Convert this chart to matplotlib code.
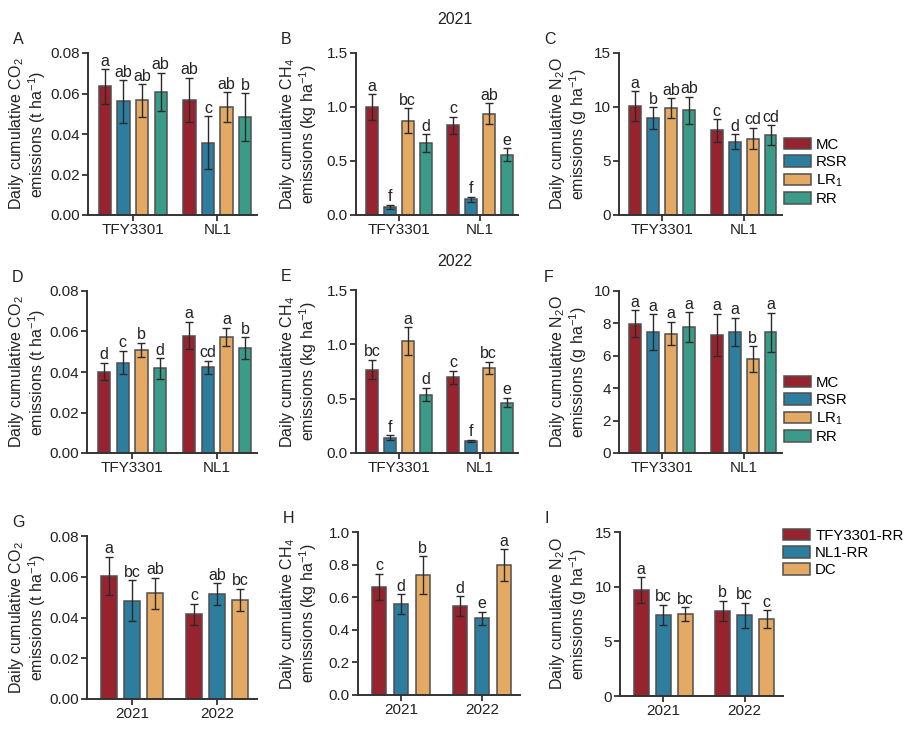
import numpy as np
import matplotlib
matplotlib.use("Agg")
import matplotlib.pyplot as plt
from matplotlib.patches import Patch

plt.rcParams['font.family'] = ['Liberation Sans', 'DejaVu Sans']
plt.rcParams['mathtext.fontset'] = 'custom'
plt.rcParams['mathtext.rm'] = 'Liberation Sans'
plt.rcParams['mathtext.it'] = 'Liberation Sans'
plt.rcParams['font.size'] = 11

W, H = 910, 736
FS = 11.5

# ---- data ----
cultivars = ['TFY3301', 'NL1']
treatments = ['MC', 'RSR', 'LR$_1$', 'RR']
years = ['2021', '2022']
combos = ['TFY3301-RR', 'NL1-RR', 'DC']

# rows: cultivar, cols: treatment (MC, RSR, LR1, RR)
co2_2021 = [[0.0635, 0.0561, 0.0566, 0.0609], [0.0567, 0.0358, 0.0533, 0.0483]]
co2_2021_sd = [[0.0086, 0.0105, 0.0080, 0.0093], [0.0110, 0.0130, 0.0072, 0.0118]]
co2_2021_let = [['a', 'ab', 'ab', 'ab'], ['ab', 'c', 'ab', 'b']]

ch4_2021 = [[0.999, 0.077, 0.875, 0.665], [0.829, 0.145, 0.937, 0.557]]
ch4_2021_sd = [[0.120, 0.020, 0.115, 0.083], [0.082, 0.026, 0.097, 0.059]]
ch4_2021_let = [['a', 'f', 'bc', 'd'], ['c', 'f', 'ab', 'e']]

n2o_2021 = [[10.11, 8.97, 9.90, 9.71], [7.83, 6.80, 7.08, 7.39]]
n2o_2021_sd = [[1.36, 0.99, 0.92, 1.25], [1.05, 0.70, 1.00, 0.94]]
n2o_2021_let = [['a', 'b', 'ab', 'ab'], ['c', 'd', 'cd', 'cd']]

co2_2022 = [[0.0402, 0.0446, 0.0510, 0.0418], [0.0580, 0.0423, 0.0574, 0.0519]]
co2_2022_sd = [[0.0043, 0.0058, 0.0035, 0.0051], [0.0067, 0.0033, 0.0045, 0.0053]]
co2_2022_let = [['d', 'c', 'b', 'd'], ['a', 'cd', 'a', 'b']]

ch4_2022 = [[0.768, 0.141, 1.030, 0.538], [0.695, 0.111, 0.784, 0.464]]
ch4_2022_sd = [[0.088, 0.023, 0.128, 0.063], [0.060, 0.010, 0.057, 0.043]]
ch4_2022_let = [['bc', 'f', 'a', 'd'], ['c', 'f', 'bc', 'e']]

n2o_2022 = [[7.98, 7.47, 7.37, 7.78], [7.30, 7.47, 5.78, 7.45]]
n2o_2022_sd = [[0.82, 1.10, 0.73, 0.92], [1.31, 0.88, 0.80, 1.20]]
n2o_2022_let = [['a', 'a', 'a', 'a'], ['a', 'a', 'b', 'a']]

# rows: year, cols: TFY3301-RR, NL1-RR, DC
co2_rr = [[0.0604, 0.0482, 0.0518], [0.0416, 0.0514, 0.0487]]
co2_rr_sd = [[0.0093, 0.0100, 0.0077], [0.0052, 0.0053, 0.0053]]
co2_rr_let = [['a', 'bc', 'ab'], ['c', 'ab', 'bc']]

ch4_rr = [[0.664, 0.559, 0.734], [0.547, 0.471, 0.795]]
ch4_rr_sd = [[0.079, 0.060, 0.116], [0.060, 0.039, 0.098]]
ch4_rr_let = [['c', 'd', 'b'], ['d', 'e', 'a']]

n2o_rr = [[9.67, 7.44, 7.47], [7.80, 7.38, 7.01]]
n2o_rr_sd = [[1.20, 0.92, 0.63], [0.92, 1.13, 0.82]]
n2o_rr_let = [['a', 'bc', 'bc'], ['b', 'bc', 'c']]

colors4 = ['#97232e', '#2d7d9e', '#e4a962', '#3a9c88']
colors3 = ['#97232e', '#2d7d9e', '#e4a962']

co2_lab = 'Daily cumulative CO$_2$\nemissions (t ha$^{-1}$)'
ch4_lab = 'Daily cumulative CH$_4$\nemissions (kg ha$^{-1}$)'
n2o_lab = 'Daily cumulative N$_2$O\nemissions (g ha$^{-1}$)'

fig = plt.figure(figsize=(W / 100, H / 100), dpi=100)


def add_ax(l, t, r, b):
    return fig.add_axes([l / W, 1 - b / H, (r - l) / W, (b - t) / H])


def draw(ax, vals, sds, lets, groups, cols, ylim, yticks, fmt, ylabel, letter,
         label_x):
    n = len(cols)
    spacing = 0.22 if n == 4 else 0.27
    width = 0.145 if n == 4 else 0.18
    offs = (np.arange(n) - (n - 1) / 2) * spacing
    top = ylim[1]
    for g in range(len(groups)):
        for i in range(n):
            x = g + offs[i]
            v, s = vals[g][i], sds[g][i]
            ax.bar(x, v, width=width, color=cols[i], edgecolor='#505050',
                   linewidth=1.1, zorder=2)
            ax.errorbar(x, v, yerr=s, fmt='none', ecolor='#2a2a2a',
                        elinewidth=1.0, capsize=3, capthick=1.0, zorder=3)
            ax.text(x, v + s + top * 0.003, lets[g][i], ha='center',
                    va='bottom', fontsize=FS, color='#222222')
    ax.set_xlim(-0.53, 1.47)
    ax.set_ylim(*ylim)
    ax.set_yticks(yticks)
    ax.set_yticklabels([fmt.format(t) for t in yticks])
    ax.set_xticks(range(len(groups)))
    ax.set_xticklabels(groups)
    for sp in ['top', 'right']:
        ax.spines[sp].set_visible(False)
    for sp in ['left', 'bottom']:
        ax.spines[sp].set_linewidth(1.4)
        ax.spines[sp].set_color('#333333')
    ax.tick_params(axis='both', width=1.3, length=4, color='#333333',
                   labelsize=11, labelcolor='#222222', pad=2)
    ax.set_ylabel(ylabel, fontsize=FS, color='#222222', linespacing=1.0)
    pos = ax.get_position()
    # right edge of the two-line label, in figure pixels
    ax.yaxis.set_label_coords((label_x / W - pos.x0) / pos.width, 0.5)
    fig.text(pos.x0 - 75 / W, pos.y1 + 6 / H, letter, fontsize=FS,
             va='bottom', ha='left', color='#222222')


co2_ticks = [0.0, 0.02, 0.04, 0.06, 0.08]
ch4_ticks = [0.0, 0.5, 1.0, 1.5]
n2o_ticks = [0, 5, 10, 15]

# row 1: 2021
axA = add_ax(88, 53, 257, 215)
draw(axA, co2_2021, co2_2021_sd, co2_2021_let, cultivars, colors4,
     (0, 0.08), co2_ticks, '{:.2f}', co2_lab, 'A', 48)
axB = add_ax(356, 53, 518, 215)
draw(axB, ch4_2021, ch4_2021_sd, ch4_2021_let, cultivars, colors4,
     (0, 1.5), ch4_ticks, '{:.1f}', ch4_lab, 'B', 319)
axC = add_ax(619, 53, 782, 215)
draw(axC, n2o_2021, n2o_2021_sd, n2o_2021_let, cultivars, colors4,
     (0, 15), n2o_ticks, '{:.0f}', n2o_lab, 'C', 589)

# row 2: 2022
axD = add_ax(87, 291, 257, 453)
draw(axD, co2_2022, co2_2022_sd, co2_2022_let, cultivars, colors4,
     (0, 0.08), co2_ticks, '{:.2f}', co2_lab, 'D', 48)
axE = add_ax(356, 290, 518, 453)
draw(axE, ch4_2022, ch4_2022_sd, ch4_2022_let, cultivars, colors4,
     (0, 1.5), ch4_ticks, '{:.1f}', ch4_lab, 'E', 319)
axF = add_ax(619, 291, 782, 453)
draw(axF, n2o_2022, n2o_2022_sd, n2o_2022_let, cultivars, colors4,
     (0, 10), [0, 2, 4, 6, 8, 10], '{:.0f}', n2o_lab, 'F', 589)

# row 3: RR comparison across years
axG = add_ax(87, 536, 257, 699)
draw(axG, co2_rr, co2_rr_sd, co2_rr_let, years, colors3,
     (0, 0.08), co2_ticks, '{:.2f}', co2_lab, 'G', 48)
axH = add_ax(358, 532, 520, 695)
draw(axH, ch4_rr, ch4_rr_sd, ch4_rr_let, years, colors3,
     (0, 1.0), [0.0, 0.2, 0.4, 0.6, 0.8, 1.0], '{:.1f}', ch4_lab, 'H', 319)
axI = add_ax(620, 532, 783, 696)
draw(axI, n2o_rr, n2o_rr_sd, n2o_rr_let, years, colors3,
     (0, 15), n2o_ticks, '{:.0f}', n2o_lab, 'I', 589)

# legends
leg_kw = dict(frameon=False, fontsize=10.8, handlelength=1.8, handleheight=0.8,
              labelspacing=0.22, handletextpad=0.35, borderaxespad=0.0,
              borderpad=0.0)
h4 = [Patch(facecolor=c, edgecolor='#505050', linewidth=1.1) for c in colors4]
for ax in (axC, axF):
    ax.legend(h4, treatments, loc='center left', bbox_to_anchor=(1.01, 0.265),
              **leg_kw)
h3 = [Patch(facecolor=c, edgecolor='#505050', linewidth=1.1) for c in colors3]
axI.legend(h3, combos, loc='upper left', bbox_to_anchor=(1.0, 1.02), **leg_kw)

fig.text(0.5, 1 - 20 / H, '2021', ha='center', va='center', fontsize=FS,
         color='#222222')
fig.text(0.5, 1 - 261 / H, '2022', ha='center', va='center', fontsize=FS,
         color='#222222')

fig.savefig('out.png', dpi=100)
